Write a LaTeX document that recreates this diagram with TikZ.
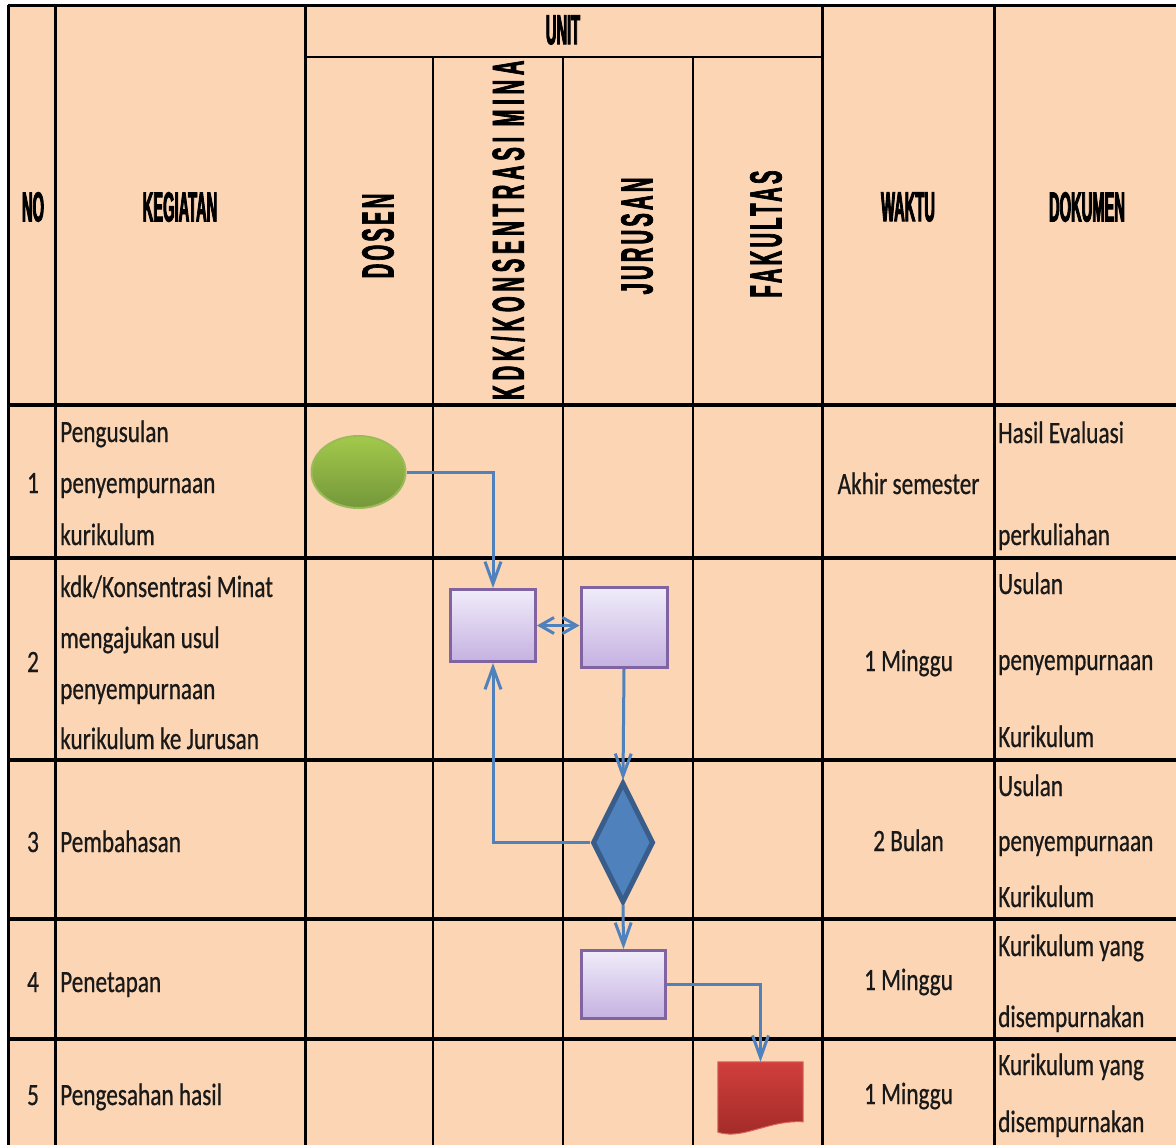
\documentclass[tikz,border=0pt]{standalone}
\usepackage{fontspec}
\setmainfont{Carlito}
\newfontfamily\bodyfont[FakeStretch=0.75,FakeBold=0.6]{Carlito}
\newfontfamily\headfont[FakeStretch=0.35,FakeBold=2]{Liberation Sans Bold}
\newfontfamily\vertfont[FakeStretch=0.45,FakeBold=1.5,LetterSpace=7]{Liberation Sans Bold}
\usetikzlibrary{shapes.geometric}
\usetikzlibrary{arrows.meta}
\definecolor{peach}{HTML}{FCD5B4}
\definecolor{flowblue}{HTML}{4F81BD}
\definecolor{decborder}{HTML}{385D8A}
\definecolor{procborder}{HTML}{8064A2}
\definecolor{proctop}{HTML}{F0ECFA}
\definecolor{procbot}{HTML}{C5B1E1}
\definecolor{starttop}{HTML}{A3C94B}
\definecolor{startbot}{HTML}{74973A}
\definecolor{startborder}{HTML}{9BBB59}
\definecolor{doctop}{HTML}{D03F3C}
\definecolor{docbot}{HTML}{A02A27}
\definecolor{docborder}{HTML}{D9605C}
\tikzset{
	body/.style={font=\bodyfont\fontsize{31}{37}\selectfont,text=black!90,anchor=base west,inner sep=0pt},
	mid/.style={body,anchor=base},
	head/.style={font=\headfont\fontsize{42}{48}\selectfont,inner sep=0pt},
	vhead/.style={font=\vertfont\fontsize{45}{50}\selectfont,rotate=90,inner sep=0pt},
	start/.style={ellipse,draw=startborder,line width=2pt,top color=starttop,bottom color=startbot,
		minimum width=94pt,minimum height=72pt,inner sep=0pt},
	process/.style={rectangle,draw=procborder,line width=3pt,top color=proctop,bottom color=procbot,
		minimum width=85pt,minimum height=72pt,inner sep=0pt},
	decision/.style={diamond,draw=decborder,line width=5pt,fill=flowblue,
		minimum width=61pt,minimum height=120pt,inner sep=0pt},
	flow/.style={draw=flowblue,line width=3pt}
}

\begin{document}
\begin{tikzpicture}[x=1pt,y=-1pt,>={Straight Barb[length=22pt,width=16pt]}]
	\useasboundingbox (0,0) rectangle (1176,1144);
	\clip (0,0) rectangle (1176,1144);
	% table
	\fill[peach] (8,5) rectangle (1190,1160);
	\draw[line width=3pt] (8,5) -- (1190,5);
	\draw[line width=2.5pt] (305,57) -- (822,57);
	\foreach \y in {405,558,760,919,1039}
		\draw[line width=4pt] (8,\y) -- (1190,\y);
	\foreach \x in {8,55,305,822,994}
		\draw[line width=3pt] (\x,5) -- (\x,1160);
	\foreach \x in {433,563,693}
		\draw[line width=2.5pt] (\x,57) -- (\x,1160);

	% header
	\node[head] (no) at (33,207) {NO};
	\node[head] (kegiatan) at (180,207) {KEGIATAN};
	\node[head] (unit) at (563,30) {UNIT};
	\node[head] (waktu) at (908,207) {WAKTU};
	\node[head] (dokumen) at (1087,207) {DOKUMEN};
	\node[vhead] (dosen) at (378,236) {DOSEN};
	\node[vhead] (jurusan) at (637,236) {JURUSAN};
	\node[vhead] (fakultas) at (766,234) {FAKULTAS};
	\begin{scope}
		\clip (433,57) rectangle (563,405);
		\node[vhead,anchor=west] (kdk) at (508,400) {\addfontfeature{LetterSpace=10.5}KDK/KONSENTRASI MINAT};
	\end{scope}

	% rows
	\foreach \t/\y [count=\i] in {1/493,2/672,3/852,4/992,5/1105}
		\node[mid] (no\i) at (33,\y) {\t};
	\foreach \t/\y [count=\i] in {Pengusulan/442,penyempurnaan/493,kurikulum/545,
		{kdk/Konsentrasi Minat}/597,mengajukan usul/648,penyempurnaan/699,kurikulum ke Jurusan/749,
		Pembahasan/852,Penetapan/992,Pengesahan hasil/1105}
		\node[body] (keg\i) at (60,\y) {\t};
	\foreach \t/\y [count=\i] in {Akhir semester/494,1 Minggu/671,2 Bulan/851,1 Minggu/990,1 Minggu/1104}
		\node[mid] (wkt\i) at (908.5,\y) {\t};
	\foreach \t/\y [count=\i] in {Hasil Evaluasi/443,perkuliahan/545,
		Usulan/594,penyempurnaan/670,Kurikulum/747,
		Usulan/796,penyempurnaan/851,Kurikulum/907,
		Kurikulum yang/956,disempurnakan/1027,
		Kurikulum yang/1075,disempurnakan/1132}
		\node[body] (dok\i) at (998,\y) {\t};

	% flow
	\node[start] (usul) at (358.5,472) {};
	\node[process] (kdkbox) at (493,625.5) {};
	\node[process,minimum width=86pt,minimum height=80pt] (jurbox) at (624,627.5) {};
	\node[decision] (bahas) at (623,842.5) {};
	\node[process,minimum width=84pt,minimum height=68pt] (tetap) at (623.5,984.5) {};
	\node[minimum width=85pt,minimum height=70pt,inner sep=0pt] (sah) at (760.5,1097) {};
	\shade[top color=doctop,bottom color=docbot,draw=docborder,line width=1pt]
		(sah.north west) -- (sah.north east) -- ++(0,60)
		.. controls +(-35,-2) and +(25,8) .. (sah.south west) -- cycle;

	\draw[flow,->] (usul.east) -| (kdkbox.north);
	\draw[flow,{Straight Barb[length=14pt,width=16pt]}-{Straight Barb[length=14pt,width=16pt]}]
		(kdkbox.east) -- (kdkbox.east -| jurbox.west);
	\draw[flow,->] (jurbox.south) -- (bahas.north);
	\draw[flow,->] (bahas.west) -| (kdkbox.south);
	\draw[flow,->] (bahas.south) -- (tetap.north);
	\draw[flow,->] (tetap.east) -| (sah.north);
\end{tikzpicture}
\end{document}
